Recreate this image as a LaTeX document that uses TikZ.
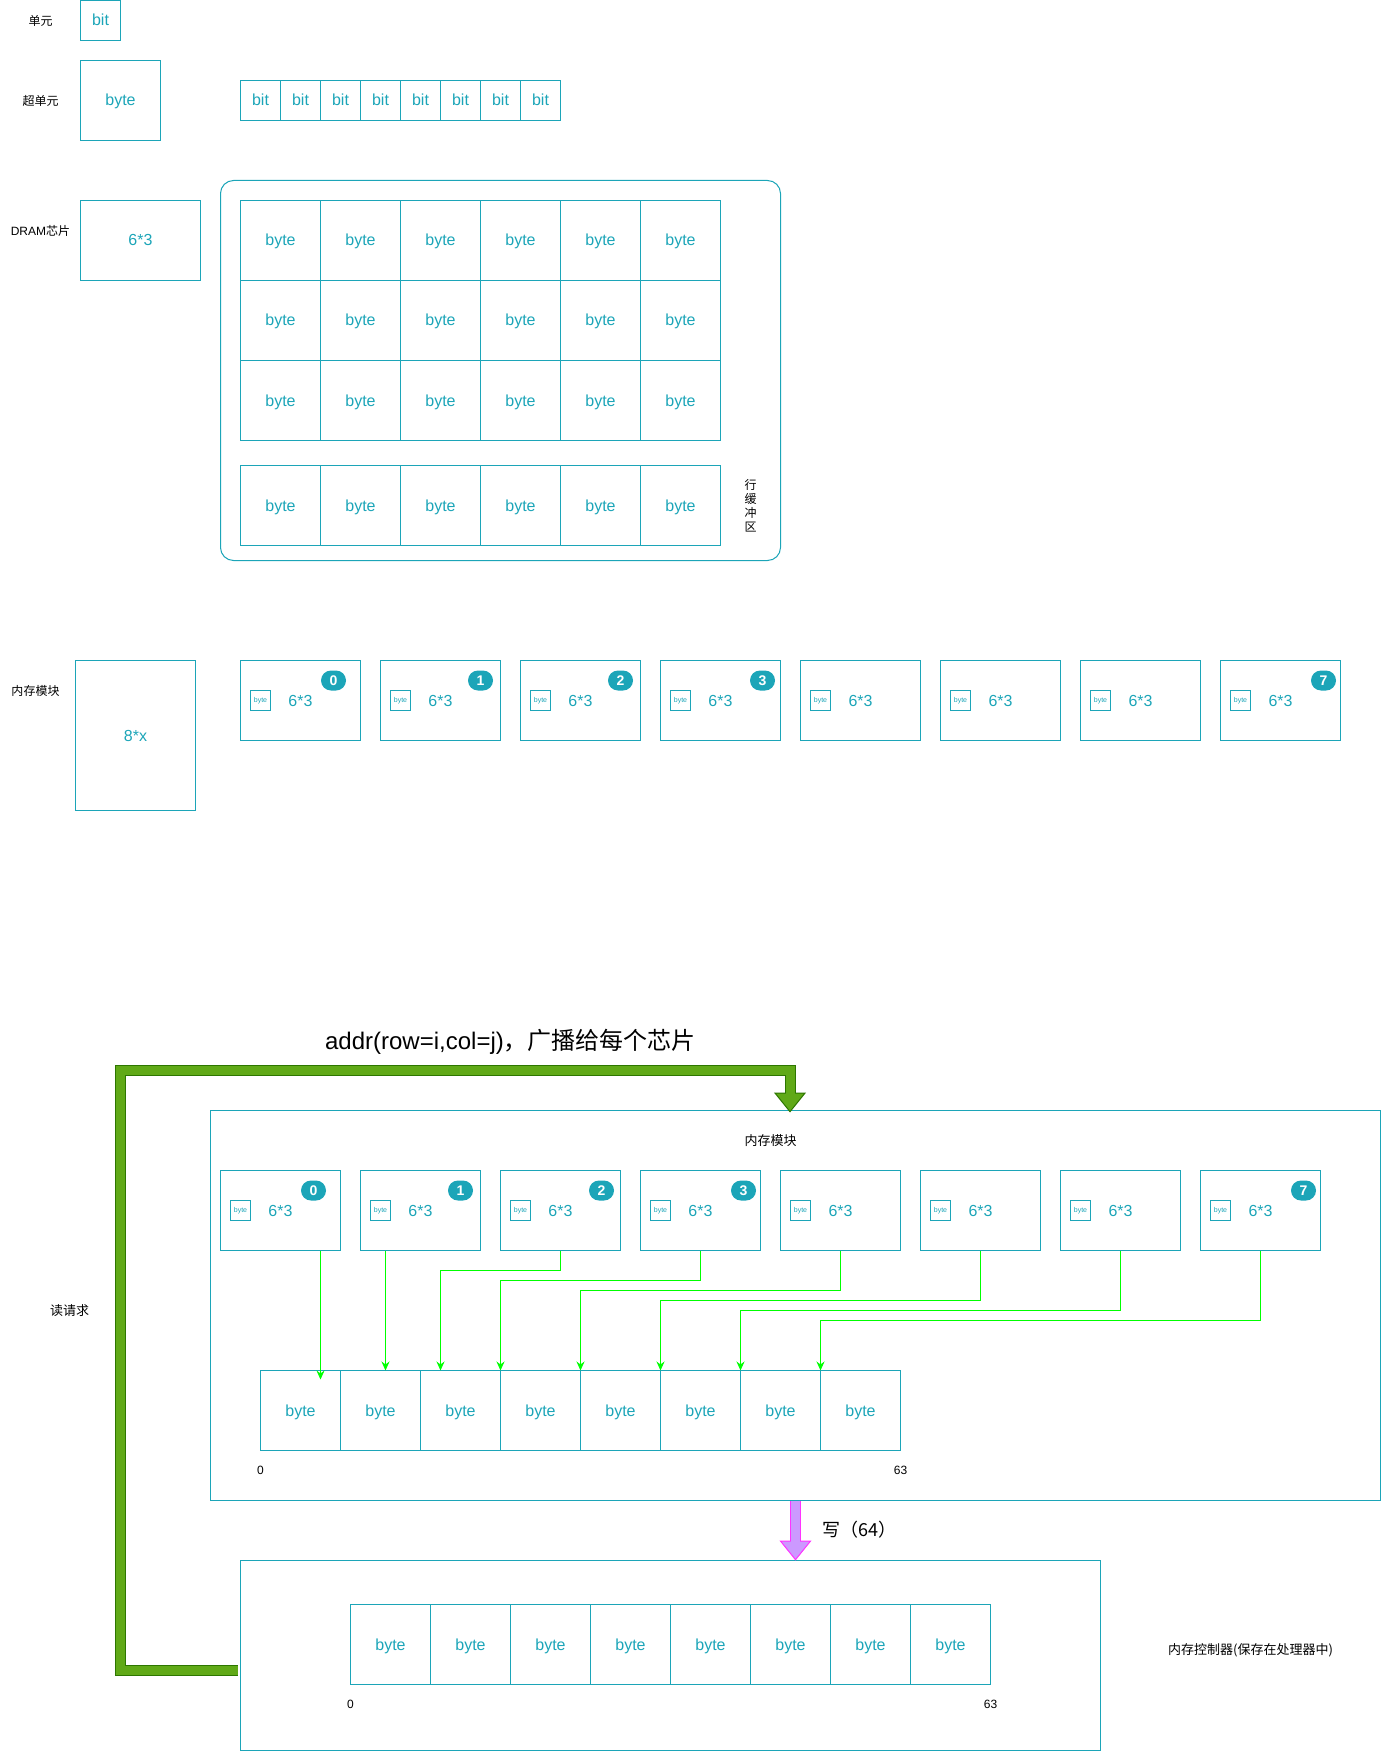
\documentclass[tikz,border=0pt]{standalone}
\usepackage{fontspec}
\setmainfont{Liberation Sans}
\newfontfamily\cjk{Noto Sans CJK SC}
\definecolor{cell_teal}{HTML}{1CA5B8}
\definecolor{wire_green}{HTML}{00FF00}
\definecolor{bus_green}{HTML}{60A917}
\definecolor{bus_dark}{HTML}{2D7600}
\definecolor{write_fill}{HTML}{CC99FF}
\definecolor{write_edge}{HTML}{FF33FF}
\usetikzlibrary{arrows.meta}
\tikzset{
  box/.style={draw=cell_teal,line width=1pt,inner sep=0pt,outer sep=0pt,anchor=north west,text=cell_teal,font=\fontsize{16}{18}\selectfont,text height=13.5pt,text depth=2.5pt},
  bit_cell/.style={box,minimum width=40pt,minimum height=40pt},
  byte_cell/.style={box,minimum width=80pt,minimum height=80pt},
  chip_box/.style={box,minimum width=120pt,minimum height=80pt},
  tiny_box/.style={box,minimum width=20pt,minimum height=20pt,font=\fontsize{7}{8}\selectfont,text height=6pt,text depth=1.2pt},
  teal_text/.style={text=cell_teal,inner sep=0pt,font=\fontsize{16}{18}\selectfont,text height=13.5pt,text depth=2.5pt},
  note/.style={text=black,inner sep=0pt,align=center,font=\fontsize{12}{14}\selectfont},
  big_note/.style={note,font=\fontsize{13}{15}\selectfont},
  badge/.style={fill=cell_teal,text=white,inner sep=0pt,minimum width=25pt,minimum height=20pt,rounded corners=10pt,font=\bfseries\fontsize{14}{16}\selectfont},
  wire/.style={draw=wire_green,line width=1pt,-{Stealth[length=9pt,width=8pt]}},
  fat_arrow/.style 2 args={draw=#1,line width=11pt,-{Triangle[length=20pt,width=32pt,line width=1pt,color=#1,fill=#2]},
    postaction={draw=#2,line width=9pt,-,shorten >=19pt}},
}
\newcommand{\dramchip}[3]{%
  \node[chip_box] (#1) at (#2,#3) {};
  \node[tiny_box] (#1_byte) at (#2+10,#3+30) {byte};
  \node[teal_text] (#1_size) at (#2+60,#3+40) {6*3};
}
\begin{document}
\begin{tikzpicture}[x=1pt,y=-1pt]
  \useasboundingbox (-0.5,-0.5) rectangle (1380.5,1751.5);
  %单元
  \node[note] (unit_label) at (40,20) {\cjk 单元};
  \node[bit_cell] (unit) at (80,0) {bit};
  %超单元
  \node[note] (super_label) at (40,100) {\cjk 超单元};
  \node[byte_cell] (super) at (80,60) {byte};
  \foreach \i in {0,...,7}
    \node[bit_cell] (bit\i) at (240+40*\i,80) {bit};
  %DRAM芯片
  \node[note] (dram_label) at (40,230) {DRAM{\cjk 芯片}};
  \node[box,minimum width=120pt,minimum height=80pt] (dram) at (80,200) {};
  \node[teal_text] (dram_size) at (140,240) {6*3};
  \node[box,minimum width=560pt,minimum height=380pt,rounded corners=13pt] (frame) at (220,180) {};
  \foreach \c in {0,...,5}{
    \foreach \r in {0,1,2}
      \node[byte_cell] (g\r\c) at (240+80*\c,200+80*\r) {byte};
    \node[byte_cell] (buf\c) at (240+80*\c,465) {byte};
  }
  \node[note] (buf_label) at (750,505) {\cjk 行\\\cjk 缓\\\cjk 冲\\\cjk 区};
  %内存模块
  \node[note] (module_label) at (35,690) {\cjk 内存模块};
  \node[box,minimum width=120pt,minimum height=150pt] (module) at (75,660) {};
  \node[teal_text] (module_size) at (135,735) {8*x};
  \foreach \i in {0,...,7}
    \dramchip{t\i}{240+140*\i}{660};
  \node[badge] (t_b0) at (333,680) {0};
  \node[badge] (t_b1) at (480,680) {1};
  \node[badge] (t_b2) at (620,680) {2};
  \node[badge] (t_b3) at (762,680) {3};
  \node[badge] (t_b7) at (1323,680) {7};
  %读请求
  \node[note,font=\fontsize{24}{28}\selectfont] (addr_label) at (510,1041) {addr(row=i,col=j){\cjk ，广播给每个芯片}};
  \node[big_note] (read_label) at (69,1310) {\cjk 读请求};
  \node[box,draw=cell_teal,minimum width=1170pt,minimum height=390pt] (mem) at (210,1110) {};
  \node[big_note] (mem_label) at (770,1140) {\cjk 内存模块};
  \foreach \i in {0,...,7}
    \dramchip{a\i}{220+140*\i}{1170};
  \node[badge] (a_b0) at (313,1190) {0};
  \node[badge] (a_b1) at (460,1190) {1};
  \node[badge] (a_b2) at (601,1190) {2};
  \node[badge] (a_b3) at (743,1190) {3};
  \node[badge] (a_b7) at (1303,1190) {7};
  \foreach \i in {0,...,7}
    \node[byte_cell] (m\i) at (260+80*\i,1370) {byte};
  \node[note] (m_lo) at (260,1470) {0};
  \node[note] (m_hi) at (900,1470) {63};
  %控制器
  \node[box,minimum width=860pt,minimum height=190pt] (ctrl) at (240,1560) {};
  \foreach \i in {0,...,7}
    \node[byte_cell] (c\i) at (350+80*\i,1604) {byte};
  \node[note] (c_lo) at (350,1704) {0};
  \node[note] (c_hi) at (990,1704) {63};
  \node[big_note] (ctrl_label) at (1250,1650) {\cjk 内存控制器(保存在处理器中)};
  %配線
  \draw[wire] ([xshift=40pt]a0.south) -- ([xshift=20pt,yshift=-9pt]m0.north);
  \draw[wire] ([xshift=-35pt]a1.south) -- ([xshift=5pt]m1.north);
  \draw[wire] (a2.south) -- ++(0,20) -| ([xshift=20pt]m2.north west);
  \draw[wire] (a3.south) -- ++(0,30) -| (m3.north west);
  \draw[wire] (a4.south) -- ++(0,40) -| (m4.north west);
  \draw[wire] (a5.south) -- ++(0,50) -| (m5.north west);
  \draw[wire] (a6.south) -- ++(0,60) -| (m6.north west);
  \draw[wire] (a7.south) -- ++(0,70) -| (m7.north west);
  %太い矢印
  \coordinate (bus_corner) at (120,1070);
  \draw[fat_arrow={bus_dark}{bus_green},line join=miter,shorten <=3pt] ([yshift=-15pt]ctrl.west) -- ([yshift=-15pt]bus_corner |- ctrl.west) -- (bus_corner) -| ([xshift=-5.5pt,yshift=-2pt]mem.north);
  \draw[fat_arrow={write_edge}{write_fill}] (mem.south) -- (mem.south |- ctrl.north);
  \node[note,font=\fontsize{18}{20}\selectfont] (write_label) at (859,1529) {\cjk 写（64）};
\end{tikzpicture}
\end{document}
